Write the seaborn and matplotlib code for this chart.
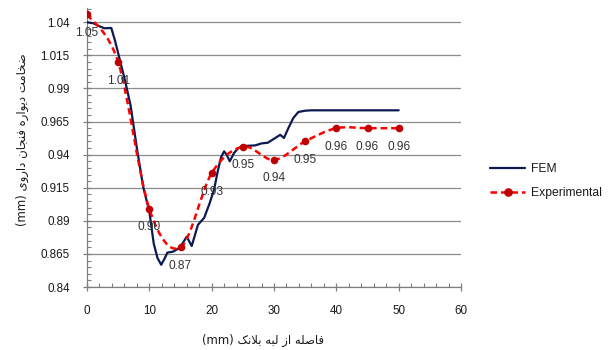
import matplotlib
matplotlib.use("Agg")
import matplotlib.pyplot as plt
from matplotlib.path import Path
from matplotlib.patches import PathPatch
from matplotlib.lines import Line2D
from matplotlib.ticker import MultipleLocator, AutoMinorLocator
import numpy as np
import pandas as pd
import seaborn as sns

# ---- data -------------------------------------------------------------
fem_x = [0, 1.0, 2.0, 2.8, 3.9, 4.5, 5.3, 6.1, 7.0, 8.0, 9.0, 10.0, 10.7,
         11.3, 11.9, 12.4, 12.9, 13.8, 14.9, 16.0, 16.8, 17.8, 18.8, 19.7,
         20.4, 21.0, 21.5, 22.0, 22.4, 22.9, 23.6, 24.3, 25.5, 27.0, 28.0,
         29.0, 30.0, 31.0, 31.6, 32.3, 33.1, 33.9, 35.0, 36.0, 40.0, 45.0, 50.0]
fem_y = [1.040, 1.0393, 1.037, 1.0355, 1.0357, 1.026, 1.011, 0.996, 0.977,
         0.945, 0.916, 0.897, 0.873, 0.862, 0.8568, 0.861, 0.866, 0.8667,
         0.8697, 0.878, 0.871, 0.887, 0.8923, 0.9036, 0.914, 0.928, 0.938,
         0.9425, 0.940, 0.935, 0.9413, 0.945, 0.9466, 0.947, 0.9485, 0.949,
         0.952, 0.955, 0.9526, 0.960, 0.9677, 0.9722, 0.9732, 0.9735, 0.9735,
         0.9735, 0.9735]

exp_x = [0, 5, 10, 15, 20, 25, 30, 35, 40, 45, 50]
exp_y = [1.046, 1.010, 0.899, 0.870, 0.926, 0.946, 0.936, 0.950, 0.960, 0.960, 0.960]

series_names = ["FEM", "Experimental"]
x_ticks = [0, 10, 20, 30, 40, 50, 60]
y_ticks = [0.84, 0.865, 0.89, 0.915, 0.94, 0.965, 0.99, 1.015, 1.04]

x_title = "فاصله از لبه بلانک"
y_title = "ضخامت دیواره فنجان داروی"
unit = "(mm)"

# ---- minimal Persian shaping (contextual forms + RTL visual order) ----
FORMS = {
    'ض': ('\uFEBD', '\uFEBE', '\uFEBF', '\uFEC0'),
    'خ': ('\uFEA5', '\uFEA6', '\uFEA7', '\uFEA8'),
    'ا': ('\uFE8D', '\uFE8E', None, None),
    'م': ('\uFEE1', '\uFEE2', '\uFEE3', '\uFEE4'),
    'ت': ('\uFE95', '\uFE96', '\uFE97', '\uFE98'),
    'د': ('\uFEA9', '\uFEAA', None, None),
    'ی': ('\uFBFC', '\uFBFD', '\uFBFE', '\uFBFF'),
    'و': ('\uFEED', '\uFEEE', None, None),
    'ر': ('\uFEAD', '\uFEAE', None, None),
    'ه': ('\uFEE9', '\uFEEA', '\uFEEB', '\uFEEC'),
    'ف': ('\uFED1', '\uFED2', '\uFED3', '\uFED4'),
    'ن': ('\uFEE5', '\uFEE6', '\uFEE7', '\uFEE8'),
    'ج': ('\uFE9D', '\uFE9E', '\uFE9F', '\uFEA0'),
    'ص': ('\uFEB9', '\uFEBA', '\uFEBB', '\uFEBC'),
    'ل': ('\uFEDD', '\uFEDE', '\uFEDF', '\uFEE0'),
    'ز': ('\uFEAF', '\uFEB0', None, None),
    'ب': ('\uFE8F', '\uFE90', '\uFE91', '\uFE92'),
    'ک': ('\uFB8E', '\uFB8F', '\uFB90', '\uFB91'),
}


def shape_rtl(text):
    chars = list(text)
    n = len(chars)
    out = []
    i = 0

    def dual(c):
        return c in FORMS and FORMS[c][2] is not None

    while i < n:
        c = chars[i]
        if c not in FORMS:
            out.append(c)
            i += 1
            continue
        prev = chars[i - 1] if i > 0 else None
        join_prev = prev is not None and dual(prev)
        # lam-alef ligature
        if c == 'ل' and i + 1 < n and chars[i + 1] == 'ا':
            out.append('\uFEFC' if join_prev else '\uFEFB')
            i += 2
            continue
        nxt = chars[i + 1] if i + 1 < n else None
        join_next = nxt is not None and nxt in FORMS and dual(c)
        iso, fin, ini, med = FORMS[c]
        if join_prev and join_next:
            out.append(med)
        elif join_prev:
            out.append(fin)
        elif join_next:
            out.append(ini)
        else:
            out.append(iso)
        i += 1
    return ''.join(reversed(out))


# ---- style ------------------------------------------------------------
sns.set_theme(style="white")
plt.rcParams['font.family'] = ['Liberation Sans', 'DejaVu Sans']

FEM_COLOR = '#0c1a52'
EXP_LINE = '#ff0000'
EXP_MARK = '#c00000'
GRID = '#8c8c8c'
TXT = '#1a1a1a'

fig = plt.figure(figsize=(6.08, 3.5), dpi=100)
ax = fig.add_axes([87 / 608, 1 - 287 / 350, (461 - 87) / 608, (287 - 8) / 350])

# FEM curve
fem_df = pd.DataFrame({"x": fem_x, "y": fem_y})
sns.lineplot(data=fem_df, x="x", y="y", sort=False, ax=ax, color=FEM_COLOR,
             lw=1.6, zorder=3, legend=False)


# Experimental: smoothed dashed curve (cubic Bezier through the points)
def smooth_path(xs, ys):
    p = np.column_stack([xs, ys]).astype(float)
    m = len(p)
    verts = [p[0]]
    codes = [Path.MOVETO]
    for k in range(m - 1):
        p0 = p[k - 1] if k > 0 else p[k]
        p3 = p[k + 2] if k + 2 < m else p[k + 1]
        c1 = p[k] + (p[k + 1] - p0) / 6.0
        c2 = p[k + 1] - (p3 - p[k]) / 6.0
        verts += [c1, c2, p[k + 1]]
        codes += [Path.CURVE4] * 3
    return Path(verts, codes)


ax.add_patch(PathPatch(smooth_path(exp_x, exp_y), fill=False, edgecolor=EXP_LINE,
                       lw=1.8, linestyle=(0, (2.6, 1.6)), zorder=4))
exp_df = pd.DataFrame({"x": exp_x, "y": exp_y})
sns.scatterplot(data=exp_df, x="x", y="y", ax=ax, color=EXP_MARK, s=30,
                edgecolor=EXP_MARK, linewidth=0, zorder=5, legend=False)

for xv, yv in zip(exp_x, exp_y):
    ax.annotate(f"{yv:.2f}", (xv, yv), xytext=(0, -18.5), textcoords='offset pixels',
                ha='center', va='center', fontsize=8.6, color='#333333', zorder=6)

# axes
ax.set_xlim(0, 60)
ax.set_ylim(0.84, 1.0508)
ax.set_xticks(x_ticks)
ax.set_yticks(y_ticks)
ax.set_yticklabels([f"{t:g}" for t in y_ticks])
ax.xaxis.set_minor_locator(AutoMinorLocator(5))
ax.yaxis.set_minor_locator(AutoMinorLocator(5))
ax.yaxis.grid(True, which='major', color=GRID, lw=0.9)
ax.xaxis.grid(False)
ax.set_axisbelow(True)
for s in ['top', 'right']:
    ax.spines[s].set_visible(False)
for s in ['left', 'bottom']:
    ax.spines[s].set_color('#7f7f7f')
    ax.spines[s].set_linewidth(0.9)
ax.tick_params(which='major', direction='inout', length=6, width=0.9,
               color='#7f7f7f', labelsize=8.4, labelcolor=TXT)
ax.tick_params(axis='y', which='major', pad=9.5)
ax.tick_params(axis='x', which='major', pad=10)
ax.tick_params(which='minor', direction='in', length=3, width=0.8, color='#7f7f7f')
ax.tick_params(which='both', left=True, bottom=True)
ax.set_xlabel("")
ax.set_ylabel("")

# axis titles
fig.text(262.5 / 608, 1 - 340 / 350, unit + " " + shape_rtl(x_title),
         ha='center', va='center', fontsize=8.4, color=TXT, family=['DejaVu Sans'])
fig.text(22 / 608, 1 - 140 / 350, unit + " " + shape_rtl(y_title), rotation=90,
         ha='center', va='center', fontsize=8.4, color=TXT, family=['DejaVu Sans'])

# legend
handles = [
    Line2D([], [], color=FEM_COLOR, lw=1.6),
    Line2D([], [], color=EXP_LINE, lw=1.8, linestyle=(0, (2.6, 1.6)),
           marker='o', markersize=5.2, markerfacecolor=EXP_MARK, markeredgecolor=EXP_MARK),
]
fig.legend(handles, series_names, loc='center left',
           bbox_to_anchor=(490 / 608, 1 - 180.8 / 350), frameon=False,
           fontsize=8.7, handlelength=2.9, handletextpad=0.5, labelspacing=1.0,
           borderpad=0, borderaxespad=0, labelcolor=TXT)

fig.savefig("out.png", dpi=100)
